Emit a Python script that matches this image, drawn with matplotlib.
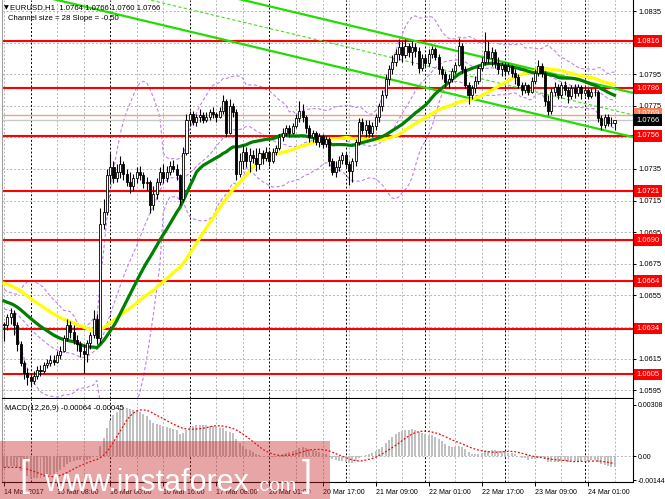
import matplotlib.pyplot as plt
import matplotlib.patches as mpatches
import matplotlib.transforms as mtransforms
import numpy as np
import pandas as pd

plt.rcParams['font.family'] = ['Liberation Sans', 'DejaVu Sans']

# EURUSD H1 bars, 14 Mar 2017 16:00 .. 24 Mar 2017 08:00
close = [
    1.0636, 1.0641, 1.0644, 1.0636, 1.0624, 1.0612, 1.0606, 1.0603,
    1.0601, 1.0604, 1.0608, 1.0607, 1.0611, 1.0612, 1.0614, 1.0613,
    1.0617, 1.0620, 1.0628, 1.0636, 1.0632, 1.0627, 1.0624, 1.0620, 1.0618, 1.0625,
    1.0630, 1.0640, 1.0628, 1.0700, 1.0708, 1.0731, 1.0736, 1.0729, 1.0733, 1.0738, 1.0732, 1.0727,
    1.0724, 1.0729, 1.0733, 1.0731, 1.0726, 1.0727, 1.0712, 1.0719, 1.0727, 1.0733, 1.0729, 1.0733,
    1.0737, 1.0735, 1.0731, 1.0716, 1.0745, 1.0766,
    1.0770, 1.0765, 1.0768, 1.0769, 1.0766, 1.0768, 1.0771, 1.0770, 1.0768, 1.0772, 1.0778, 1.0758,
    1.0775, 1.0771, 1.0732, 1.0740, 1.0746, 1.0740, 1.0744, 1.0742,
    1.0738, 1.0745, 1.0742, 1.0746, 1.0740, 1.0746, 1.0748, 1.0755, 1.0758, 1.0761, 1.0758, 1.0762,
    1.0767, 1.0772, 1.0768, 1.0761, 1.0755, 1.0758, 1.0752, 1.0756,
    1.0751, 1.0754, 1.0740, 1.0733, 1.0736, 1.0741, 1.0744, 1.0738, 1.0734, 1.0740, 1.0752, 1.0765,
    1.0760, 1.0763, 1.0758, 1.0762, 1.0768,
    1.0775, 1.0782, 1.0792, 1.0798, 1.0803, 1.0808, 1.0812, 1.0807, 1.0813, 1.0809, 1.0812, 1.0810,
    1.0799, 1.0805, 1.0802, 1.0808, 1.0811, 1.0806,
    1.0798, 1.0795, 1.0790, 1.0792, 1.0797, 1.0801, 1.0813, 1.0798, 1.0788, 1.0782, 1.0786, 1.0791,
    1.0799, 1.0803, 1.0810, 1.0805, 1.0809, 1.0802, 1.0798, 1.0801, 1.0797,
    1.0800, 1.0796, 1.0793, 1.0788, 1.0785, 1.0788, 1.0784, 1.0791, 1.0796, 1.0800, 1.0796, 1.0778,
    1.0772, 1.0784, 1.0787, 1.0782, 1.0788, 1.0785, 1.0781, 1.0786, 1.0783, 1.0787, 1.0783, 1.0785,
    1.0781, 1.0784, 1.0784, 1.0767, 1.0763, 1.0768, 1.0764, 1.0764, 1.0766,
]
high = [
    1.0638, 1.0643, 1.0647, 1.0646, 1.0638, 1.0626, 1.0614, 1.0609,
    1.0606, 1.0607, 1.0610, 1.0611, 1.0613, 1.0615, 1.0617, 1.0617,
    1.0620, 1.0623, 1.0630, 1.0640, 1.0639, 1.0636, 1.0630, 1.0626, 1.0624, 1.0627,
    1.0632, 1.0646, 1.0643, 1.0710, 1.0716, 1.0735, 1.0745, 1.0740, 1.0738, 1.0743, 1.0740, 1.0735,
    1.0733, 1.0732, 1.0736, 1.0737, 1.0733, 1.0730, 1.0728, 1.0724, 1.0729, 1.0736, 1.0738, 1.0737,
    1.0740, 1.0741, 1.0738, 1.0732, 1.0749, 1.0770,
    1.0772, 1.0772, 1.0770, 1.0773, 1.0771, 1.0771, 1.0773, 1.0774, 1.0771, 1.0774, 1.0782, 1.0779,
    1.0779, 1.0777, 1.0773, 1.0745, 1.0750, 1.0749, 1.0748, 1.0747,
    1.0748, 1.0748, 1.0747, 1.0749, 1.0747, 1.0748, 1.0750, 1.0757, 1.0761, 1.0763, 1.0763, 1.0764,
    1.0770, 1.0778, 1.0776, 1.0769, 1.0763, 1.0760, 1.0759, 1.0758,
    1.0757, 1.0756, 1.0755, 1.0742, 1.0740, 1.0743, 1.0746, 1.0746, 1.0740, 1.0742, 1.0754, 1.0767,
    1.0767, 1.0766, 1.0766, 1.0765, 1.0770,
    1.0777, 1.0785, 1.0795, 1.0801, 1.0807, 1.0811, 1.0817, 1.0816, 1.0817, 1.0815, 1.0816, 1.0815,
    1.0812, 1.0808, 1.0808, 1.0811, 1.0813, 1.0812,
    1.0808, 1.0800, 1.0797, 1.0795, 1.0799, 1.0803, 1.0818, 1.0815, 1.0800, 1.0790, 1.0788, 1.0794,
    1.0801, 1.0806, 1.0822, 1.0816, 1.0812, 1.0811, 1.0806, 1.0803, 1.0803,
    1.0802, 1.0801, 1.0798, 1.0795, 1.0790, 1.0790, 1.0789, 1.0793, 1.0798, 1.0804, 1.0802, 1.0797,
    1.0782, 1.0786, 1.0790, 1.0789, 1.0790, 1.0791, 1.0787, 1.0788, 1.0789, 1.0789, 1.0788, 1.0787,
    1.0786, 1.0786, 1.0786, 1.0785, 1.0769, 1.0770, 1.0770, 1.0768, 1.0766,
]
low = [
    1.0626, 1.0633, 1.0637, 1.0630, 1.0620, 1.0610, 1.0602, 1.0598,
    1.0597, 1.0599, 1.0602, 1.0604, 1.0606, 1.0609, 1.0610, 1.0611,
    1.0612, 1.0615, 1.0619, 1.0626, 1.0628, 1.0624, 1.0620, 1.0616, 1.0606, 1.0613,
    1.0621, 1.0628, 1.0624, 1.0625, 1.0697, 1.0706, 1.0726, 1.0726, 1.0727, 1.0729, 1.0728, 1.0724,
    1.0720, 1.0721, 1.0726, 1.0728, 1.0723, 1.0722, 1.0707, 1.0709, 1.0716, 1.0725, 1.0726, 1.0727,
    1.0731, 1.0733, 1.0728, 1.0712, 1.0714, 1.0744,
    1.0762, 1.0763, 1.0762, 1.0765, 1.0764, 1.0765, 1.0766, 1.0767, 1.0765, 1.0767, 1.0770, 1.0755,
    1.0757, 1.0768, 1.0728, 1.0730, 1.0735, 1.0736, 1.0733, 1.0739,
    1.0734, 1.0735, 1.0738, 1.0740, 1.0737, 1.0739, 1.0744, 1.0747, 1.0753, 1.0756, 1.0755, 1.0757,
    1.0761, 1.0765, 1.0765, 1.0758, 1.0752, 1.0752, 1.0750, 1.0749,
    1.0748, 1.0749, 1.0737, 1.0731, 1.0730, 1.0734, 1.0738, 1.0736, 1.0725, 1.0727, 1.0737, 1.0750,
    1.0757, 1.0755, 1.0755, 1.0755, 1.0760,
    1.0765, 1.0772, 1.0780, 1.0788, 1.0795, 1.0800, 1.0804, 1.0803, 1.0805, 1.0806, 1.0801, 1.0806,
    1.0796, 1.0797, 1.0799, 1.0800, 1.0805, 1.0804,
    1.0795, 1.0792, 1.0787, 1.0786, 1.0790, 1.0795, 1.0800, 1.0796, 1.0786, 1.0776, 1.0779, 1.0783,
    1.0789, 1.0797, 1.0801, 1.0802, 1.0800, 1.0799, 1.0795, 1.0794, 1.0794,
    1.0795, 1.0793, 1.0789, 1.0786, 1.0782, 1.0783, 1.0782, 1.0783, 1.0789, 1.0794, 1.0793, 1.0775,
    1.0769, 1.0770, 1.0781, 1.0779, 1.0780, 1.0782, 1.0777, 1.0779, 1.0780, 1.0781, 1.0779, 1.0781,
    1.0779, 1.0780, 1.0781, 1.0765, 1.0760, 1.0761, 1.0762, 1.0762, 1.0760,
]
# closes before the first visible bar (13-14 Mar), only used to warm up the indicators
warmup_close = [
    1.0676, 1.0680, 1.0683, 1.0681, 1.0678, 1.0682, 1.0685, 1.0683, 1.0680, 1.0677,
    1.0679, 1.0682, 1.0684, 1.0681, 1.0678, 1.0675, 1.0677, 1.0680, 1.0676, 1.0672,
    1.0668, 1.0665, 1.0667, 1.0663, 1.0660, 1.0662, 1.0658, 1.0655, 1.0657, 1.0659,
    1.0656, 1.0652, 1.0654, 1.0657, 1.0653, 1.0650, 1.0648, 1.0651, 1.0649, 1.0646,
    1.0643, 1.0645, 1.0648, 1.0644, 1.0641, 1.0638, 1.0640, 1.0642, 1.0637,
]

levels = [1.0816, 1.0786, 1.0756, 1.0721, 1.0690, 1.0664, 1.0634, 1.0605]
price_ticks = [1.0835, 1.0795, 1.0775, 1.0735, 1.0715, 1.0695, 1.0675, 1.0655, 1.0615, 1.0595]
grid_prices = [1.0835, 1.0815, 1.0795, 1.0775, 1.0755, 1.0735, 1.0715, 1.0695,
               1.0675, 1.0655, 1.0635, 1.0615, 1.0595]
bid, ask = 1.0766, 1.0769
time_labels = ['14 Mar 2017', '15 Mar 08:00', '16 Mar 00:00', '16 Mar 16:00', '17 Mar 08:00',
               '20 Mar 01:00', '20 Mar 17:00', '21 Mar 09:00', '22 Mar 01:00', '22 Mar 17:00',
               '23 Mar 09:00', '24 Mar 01:00']
label_bars = [0, 16, 32, 48, 64, 80, 96, 112, 128, 144, 160, 176]
separator_bars = [8, 32, 56, 80, 103, 127, 151, 175]
macd_ticks = [0.00308, 0.0, -0.00144]

# regression channel: top line at the last bar, slope per bar, width
chan_end_bar, chan_top_end, chan_slope, chan_size = 184, 1.0786, -0.00005, 0.0028

# indicators
n0 = len(warmup_close)
prices = pd.Series(warmup_close + close)
sma30 = prices.rolling(30, min_periods=1).mean().to_numpy()[n0:]
sma50 = prices.rolling(50, min_periods=1).mean().to_numpy()[n0:]
mid20 = prices.rolling(20, min_periods=1).mean()
std20 = prices.rolling(20, min_periods=1).std(ddof=0)
bb_up = (mid20 + 2 * std20).to_numpy()[n0:]
bb_dn = (mid20 - 2 * std20).to_numpy()[n0:]
bb_mid = mid20.to_numpy()[n0:]
macd = prices.ewm(span=12, adjust=False).mean() - prices.ewm(span=26, adjust=False).mean()
signal = macd.rolling(9, min_periods=1).mean()
macd = macd.to_numpy()[n0:]
signal = signal.to_numpy()[n0:]

n = len(close)
bars = np.arange(n)
c = np.array(close)
o = np.array([warmup_close[-1]] + close[:-1])
hi = np.array(high)
lo = np.array(low)

W, H = 665, 499
fig = plt.figure(figsize=(W / 100, H / 100), dpi=100)


def px_axes(x0, y0, x1, y1):
    return fig.add_axes([x0 / W, 1 - y1 / H, (x1 - x0) / W, (y1 - y0) / H])


ax = px_axes(2, 0, 633, 398)
axm = px_axes(2, 399, 633, 482)
px_per_bar = 3.318
xlim = (-2 / px_per_bar, 629 / px_per_bar)

grid_kw = dict(color='#b4b4b4', lw=0.7, ls=(0, (2, 2)), zorder=0)
for a in (ax, axm):
    a.set_xlim(xlim)
    for b in range(0, 190, 8):
        if b not in separator_bars:
            a.axvline(b, **grid_kw)
    for b in separator_bars:
        a.axvline(b, color='black', lw=0.7, ls=(0, (2, 2)), zorder=0.5)
    a.spines['left'].set_color('#a0a0a0')
    a.spines['top'].set_visible(False)
    a.yaxis.tick_right()
    a.tick_params(axis='y', direction='out', length=2.5, width=0.7, labelsize=5.4, pad=1.5)

for p in grid_prices:
    ax.axhline(p, **grid_kw)

# price panel
ax.set_ylim(1.0590, 1.0842)
ax.set_xticks([])
ax.set_yticks(price_ticks)
ax.set_yticklabels([f'{p:.4f}' for p in price_ticks])

ax.plot(bars, bb_up, color='#c080f0', lw=0.8, ls=(0, (3, 2)), zorder=1)
ax.plot(bars, bb_mid, color='#c080f0', lw=0.8, ls=(0, (3, 2)), zorder=1)
ax.plot(bars, bb_dn, color='#c080f0', lw=0.8, ls=(0, (3, 2)), zorder=1)

for lvl in levels:
    ax.axhline(lvl, color='#ff0000', lw=1.5, zorder=2)
ax.axhline(ask, color='#f4a080', lw=1.0, zorder=2)
ax.axhline(bid, color='#c8c8c8', lw=1.0, zorder=2)

cx = np.array([-2, 192])
top = chan_top_end + chan_slope * (cx - chan_end_bar)
ax.plot(cx, top, color='#22dd00', lw=1.6, zorder=3)
ax.plot(cx, top - chan_size, color='#22dd00', lw=1.6, zorder=3)
ax.plot(cx, top - chan_size / 2, color='#44dd22', lw=0.8, ls=(0, (3, 2)), zorder=3)

ax.plot(bars, sma50, color='#ffff00', lw=2.3, zorder=4)
ax.plot(bars, sma30, color='#008000', lw=2.3, zorder=4)

up = c >= o
ax.vlines(bars, lo, hi, color='black', lw=0.8, zorder=5)
ax.bar(bars[up], c[up] - o[up], bottom=o[up], width=0.62, color='white',
       edgecolor='black', lw=0.6, zorder=6)
ax.bar(bars[~up], o[~up] - c[~up], bottom=c[~up], width=0.62, color='black',
       edgecolor='black', lw=0.6, zorder=6)

# price labels on the right axis
tr = mtransforms.offset_copy(mtransforms.blended_transform_factory(ax.transAxes, ax.transData),
                             fig=fig, x=2.5, y=0, units='points')
label_kw = dict(transform=tr, ha='left', va='center', fontsize=5.4, color='white', clip_on=False)
for lvl in levels:
    ax.text(1.0, lvl, f'{lvl:.4f}', zorder=10, **label_kw,
            bbox=dict(boxstyle='square,pad=0.3', fc='#ff0000', ec='none'))
ax.text(1.0, ask + 0.0001, f'{ask:.4f}', zorder=10, **label_kw,
        bbox=dict(boxstyle='square,pad=0.3', fc='#ff7f50', ec='none'))
ax.text(1.0, bid, f'{bid:.4f}', zorder=11, **label_kw,
        bbox=dict(boxstyle='square,pad=0.3', fc='black', ec='none'))

# MACD panel
axm.set_ylim(-0.00154, 0.00343)
axm.axhline(0, **grid_kw)
axm.bar(bars, macd, width=0.6, color='#c0c0c0', zorder=2)
axm.plot(bars, signal, color='#ff0000', lw=0.9, ls=(0, (1.5, 1.5)), zorder=3)
axm.set_yticks(macd_ticks)
axm.set_yticklabels(['0.00308', '0.00', '-0.00144'])
axm.tick_params(axis='y', labelsize=5.0, pad=1)
axm.set_xticks(label_bars)
axm.set_xticklabels(time_labels)
axm.tick_params(axis='x', direction='out', length=3, width=0.7, labelsize=5.0, pad=2)
for t in axm.get_xticklabels():
    t.set_ha('left')

fig.text(4 / W, 1 - 8 / H, '\u25bc', fontsize=4.5, va='center', family='DejaVu Sans')
fig.text(10 / W, 1 - 8 / H, 'EURUSD,H1  1.0764 1.0766 1.0760 1.0766', fontsize=5.6, va='center')
fig.text(8 / W, 1 - 19 / H, 'Channel size = 28 Slope = -0.50', fontsize=5.6, va='center')
fig.text(5 / W, 1 - 408 / H, 'MACD(12,26,9) -0.00064 -0.00045', fontsize=5.6, va='center')

# watermark
fig.patches.append(mpatches.Rectangle((0, 0), 330 / W, 58 / H, transform=fig.transFigure,
                                      fc=(0.78, 0.16, 0.16), alpha=0.42, ec='none', zorder=20))
fig.text(19 / W, 1 - 476 / H, '[', fontsize=26, color='white', va='center', zorder=21)
fig.text(44 / W, 1 - 491 / H, 'www.instaforex', fontsize=22, color='white', va='baseline', zorder=21)
fig.text(254 / W, 1 - 491 / H, '.com', fontsize=14, color='white', va='baseline', zorder=21)
fig.text(302 / W, 1 - 476 / H, ']', fontsize=26, color='white', va='center', zorder=21)

fig.savefig('out.png', dpi=100)
